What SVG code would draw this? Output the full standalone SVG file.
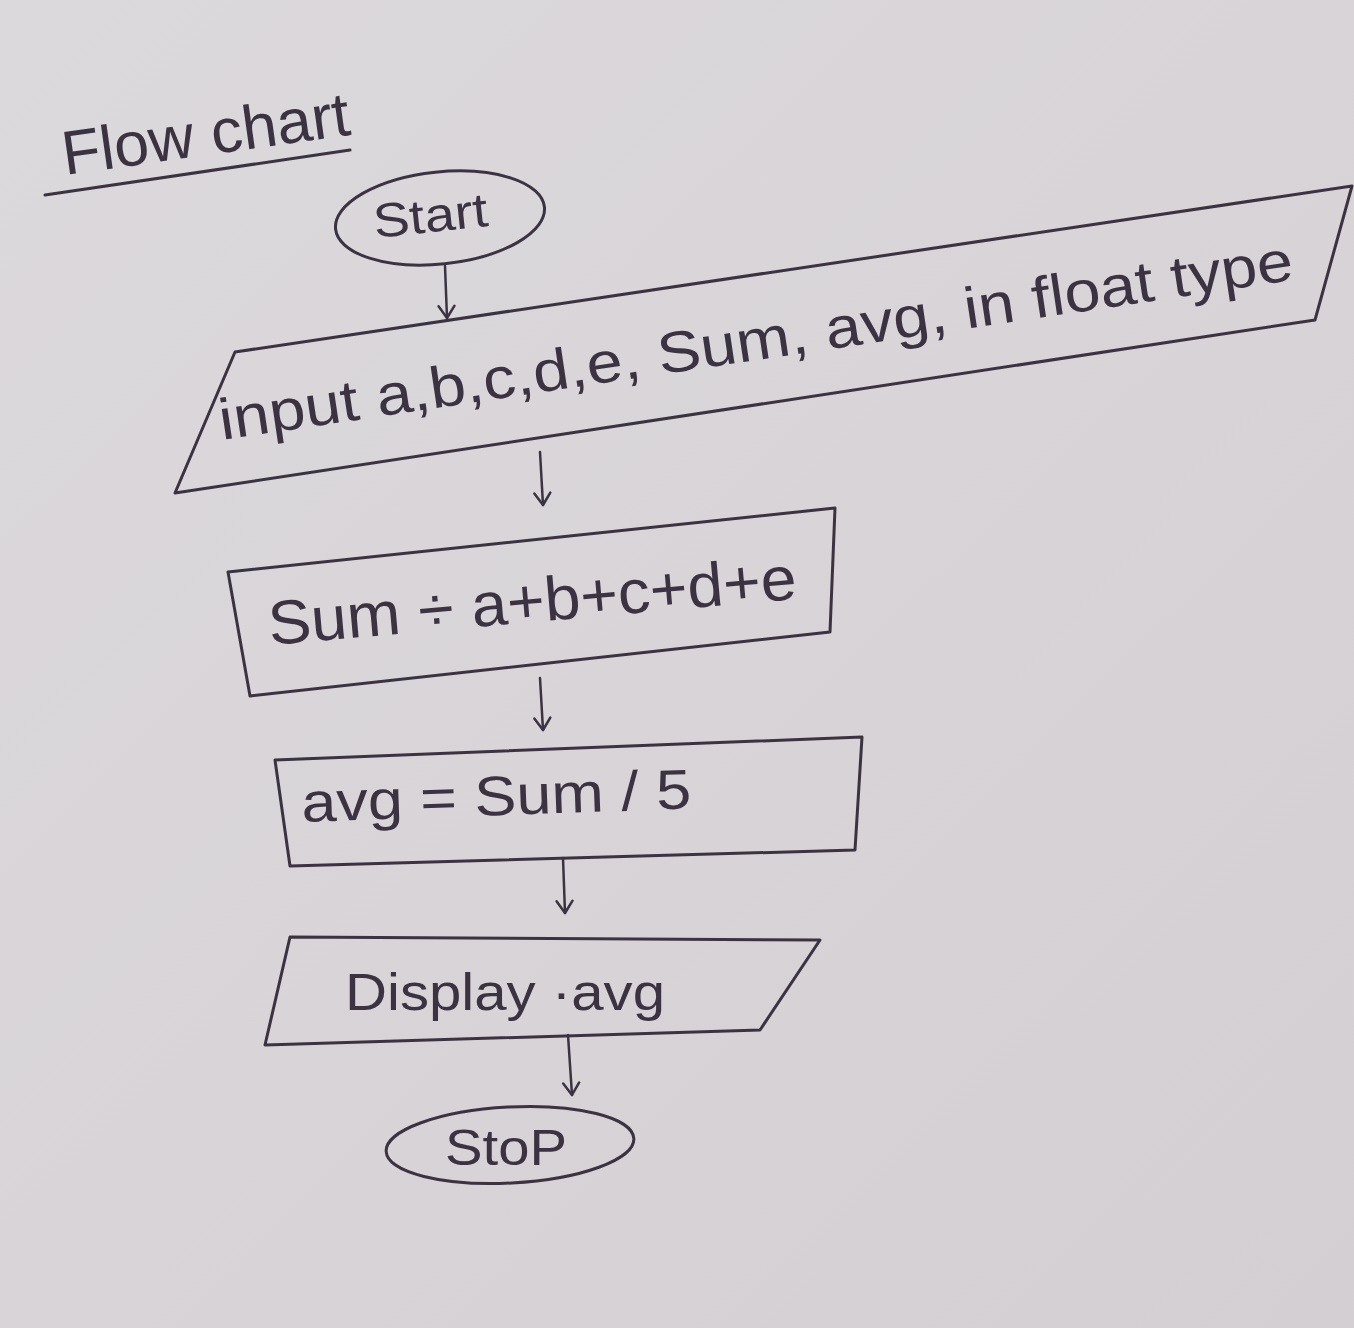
<svg xmlns="http://www.w3.org/2000/svg" width="1354" height="1328" viewBox="0 0 1354 1328">
<defs>
<linearGradient id="bg" x1="0" y1="0" x2="1" y2="1">
<stop offset="0" stop-color="#dcd9dc"/>
<stop offset="0.5" stop-color="#d8d4d7"/>
<stop offset="1" stop-color="#d3cfd2"/>
</linearGradient>
<marker id="arr" viewBox="0 0 20 20" refX="18" refY="10" markerWidth="20" markerHeight="20" markerUnits="userSpaceOnUse" orient="auto">
<path d="M6 2 L18 10 L6 18" fill="none" stroke="#3b3342" stroke-width="2.5" stroke-linecap="round" stroke-linejoin="round"/>
</marker>
<style>
.ink{fill:none;stroke:#3b3342;stroke-width:3;stroke-linejoin:round;stroke-linecap:round}
.t{font-family:"Liberation Sans",Arial,sans-serif;fill:#3b3342}
.c{fill:none;stroke:#3b3342;stroke-width:2.5;stroke-linecap:round}
</style>
</defs>
<rect width="1354" height="1328" fill="url(#bg)"/>
<g id="title">
<text class="t" x="65" y="175" font-size="62" transform="rotate(-8 65 175)" textLength="290" lengthAdjust="spacingAndGlyphs">Flow chart</text>
<path class="ink" d="M45 195 L350 150"/>
</g>
<g id="start">
<ellipse class="ink" cx="440" cy="218" rx="105" ry="46" transform="rotate(-6 440 218)"/>
<text class="t" x="375" y="238" font-size="48" transform="rotate(-6 375 238)" textLength="115" lengthAdjust="spacingAndGlyphs">Start</text>
</g>
<g id="input">
<path class="ink" d="M235 352 L1352 186 L1315 320 L175 493 Z"/>
<text class="t" x="222" y="440" font-size="58" transform="rotate(-8.5 222 440)" textLength="1085" lengthAdjust="spacingAndGlyphs">input a,b,c,d,e, Sum, avg, in float type</text>
</g>
<g id="sum">
<path class="ink" d="M228 572 L835 508 L830 632 L250 696 Z"/>
<text class="t" x="270" y="645" font-size="62" transform="rotate(-5 270 645)" textLength="530" lengthAdjust="spacingAndGlyphs">Sum ÷ a+b+c+d+e</text>
</g>
<g id="avg">
<path class="ink" d="M275 760 L862 737 L855 850 L290 866 Z"/>
<text class="t" x="302" y="822" font-size="56" transform="rotate(-2 302 822)" textLength="390" lengthAdjust="spacingAndGlyphs">avg = Sum / 5</text>
</g>
<g id="display">
<path class="ink" d="M290 937 L820 940 L760 1030 L265 1045 Z"/>
<text class="t" x="345" y="1010" font-size="52" textLength="320" lengthAdjust="spacingAndGlyphs">Display ·avg</text>
</g>
<g id="stop">
<ellipse class="ink" cx="510" cy="1145" rx="124" ry="38" transform="rotate(-3 510 1145)"/>
<text class="t" x="445" y="1165" font-size="50" textLength="122" lengthAdjust="spacingAndGlyphs">StoP</text>
</g>
<g id="connectors">
<path class="c" d="M445 266 L447 318" marker-end="url(#arr)"/>
<path class="c" d="M540 452 L543 505" marker-end="url(#arr)"/>
<path class="c" d="M540 678 L543 730" marker-end="url(#arr)"/>
<path class="c" d="M563 858 L565 913" marker-end="url(#arr)"/>
<path class="c" d="M568 1035 L572 1095" marker-end="url(#arr)"/>
</g>
</svg>
